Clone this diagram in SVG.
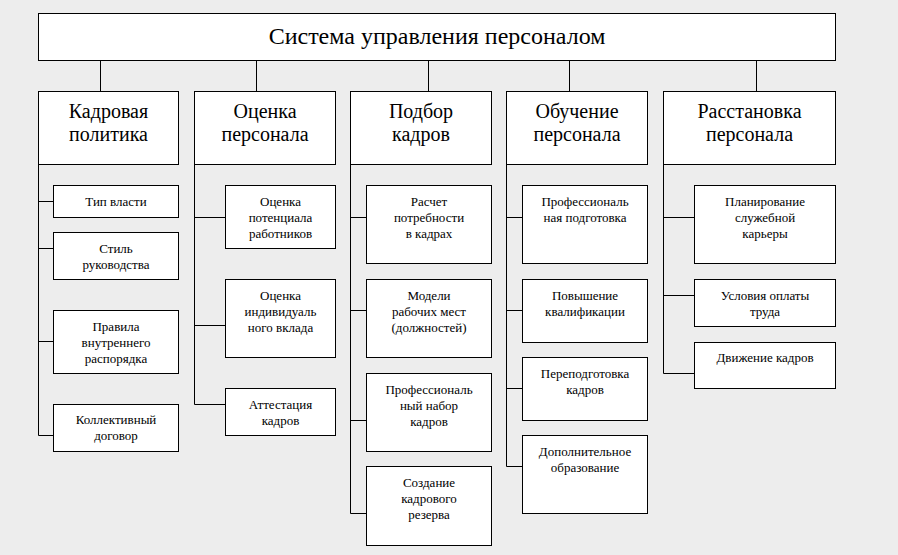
<svg xmlns="http://www.w3.org/2000/svg" width="898" height="555" viewBox="0 0 898 555">
<style>
.bg{fill:#ededed}
rect.b{fill:#fff;stroke:#000;stroke-width:1}
.c{fill:none;stroke:#000;stroke-width:1}
text{font-family:'Liberation Serif','Times New Roman',Tinos,'DejaVu Serif','Noto Serif',FreeSerif,serif;fill:#000;text-anchor:middle}
.t0{font-size:24px}
.t1{font-size:20px}
.t2{font-size:13px}
</style>
<rect class="bg" x="0" y="0" width="898" height="555"/>
<g id="connectors">
<path class="c" d="M100.5 60.5V91.5M256.5 60.5V91.5M428.5 60.5V91.5M569.5 60.5V91.5M756.5 60.5V91.5"/>
<path class="c" d="M38.5 164.5V435.5M38.5 201.5H53.5M38.5 248.5H53.5M38.5 341.5H53.5M38.5 435.5H53.5"/>
<path class="c" d="M194.5 164.5V404.5M194.5 217.5H225.5M194.5 325.5H225.5M194.5 404.5H225.5"/>
<path class="c" d="M350.5 164.5V513.5M350.5 217.5H366.5M350.5 310.5H366.5M350.5 420.5H366.5M350.5 513.5H366.5"/>
<path class="c" d="M506.5 164.5V466.5M506.5 217.5H522.5M506.5 310.5H522.5M506.5 388.5H522.5M506.5 466.5H522.5"/>
<path class="c" d="M663.5 164.5V373.5M663.5 217.5H694.5M663.5 295.5H694.5M663.5 373.5H694.5"/>
</g>
<g id="root"><rect class="b" x="38.5" y="13.5" width="797" height="47"/><text class="t0" x="437" y="44">Система управления персоналом</text></g>
<g id="kp"><rect class="b" x="38.5" y="91.5" width="140" height="73"/><text class="t1" x="108.5" y="118">Кадровая</text><text class="t1" x="108.5" y="141">политика</text></g>
<g id="op"><rect class="b" x="194.5" y="91.5" width="141" height="73"/><text class="t1" x="265" y="118">Оценка</text><text class="t1" x="265" y="141">персонала</text></g>
<g id="pk"><rect class="b" x="350.5" y="91.5" width="141" height="73"/><text class="t1" x="421" y="118">Подбор</text><text class="t1" x="421" y="141">кадров</text></g>
<g id="ob"><rect class="b" x="506.5" y="91.5" width="141" height="73"/><text class="t1" x="577" y="118">Обучение</text><text class="t1" x="577" y="141">персонала</text></g>
<g id="rp"><rect class="b" x="663.5" y="91.5" width="172" height="73"/><text class="t1" x="749.5" y="118">Расстановка</text><text class="t1" x="749.5" y="141">персонала</text></g>

<g id="kp1"><rect class="b" x="53.5" y="185.5" width="125" height="32"/><text class="t2" x="116" y="206">Тип власти</text></g>
<g id="kp2"><rect class="b" x="53.5" y="232.5" width="125" height="47"/><text class="t2" x="116" y="253">Стиль</text><text class="t2" x="116" y="269">руководства</text></g>
<g id="kp3"><rect class="b" x="53.5" y="310.5" width="125" height="63"/><text class="t2" x="116" y="331">Правила</text><text class="t2" x="116" y="347">внутреннего</text><text class="t2" x="116" y="363">распорядка</text></g>
<g id="kp4"><rect class="b" x="53.5" y="404.5" width="125" height="47"/><text class="t2" x="116" y="424">Коллективный</text><text class="t2" x="116" y="440">договор</text></g>

<g id="op1"><rect class="b" x="225.5" y="185.5" width="110" height="63"/><text class="t2" x="280.5" y="206">Оценка</text><text class="t2" x="280.5" y="222">потенциала</text><text class="t2" x="280.5" y="238">работников</text></g>
<g id="op2"><rect class="b" x="225.5" y="279.5" width="110" height="78"/><text class="t2" x="280.5" y="300">Оценка</text><text class="t2" x="280.5" y="316">индивидуаль</text><text class="t2" x="280.5" y="332">ного вклада</text></g>
<g id="op3"><rect class="b" x="225.5" y="388.5" width="110" height="47"/><text class="t2" x="280.5" y="409">Аттестация</text><text class="t2" x="280.5" y="425">кадров</text></g>

<g id="pk1"><rect class="b" x="366.5" y="185.5" width="125" height="78"/><text class="t2" x="429" y="206">Расчет</text><text class="t2" x="429" y="222">потребности</text><text class="t2" x="429" y="238">в кадрах</text></g>
<g id="pk2"><rect class="b" x="366.5" y="279.5" width="125" height="78"/><text class="t2" x="429" y="300">Модели</text><text class="t2" x="429" y="316">рабочих мест</text><text class="t2" x="429" y="332">(должностей)</text></g>
<g id="pk3"><rect class="b" x="366.5" y="373.5" width="125" height="78"/><text class="t2" x="429" y="394">Профессиональ</text><text class="t2" x="429" y="410">ный набор</text><text class="t2" x="429" y="426">кадров</text></g>
<g id="pk4"><rect class="b" x="366.5" y="466.5" width="125" height="79"/><text class="t2" x="429" y="487">Создание</text><text class="t2" x="429" y="503">кадрового</text><text class="t2" x="429" y="519">резерва</text></g>

<g id="ob1"><rect class="b" x="522.5" y="185.5" width="125" height="78"/><text class="t2" x="585" y="206">Профессиональ</text><text class="t2" x="585" y="222">ная подготовка</text></g>
<g id="ob2"><rect class="b" x="522.5" y="279.5" width="125" height="63"/><text class="t2" x="585" y="300">Повышение</text><text class="t2" x="585" y="316">квалификации</text></g>
<g id="ob3"><rect class="b" x="522.5" y="357.5" width="125" height="63"/><text class="t2" x="585" y="378">Переподготовка</text><text class="t2" x="585" y="394">кадров</text></g>
<g id="ob4"><rect class="b" x="522.5" y="435.5" width="125" height="78"/><text class="t2" x="585" y="456">Дополнительное</text><text class="t2" x="585" y="472">образование</text></g>

<g id="rp1"><rect class="b" x="694.5" y="185.5" width="141" height="78"/><text class="t2" x="765" y="206">Планирование</text><text class="t2" x="765" y="222">служебной</text><text class="t2" x="765" y="238">карьеры</text></g>
<g id="rp2"><rect class="b" x="694.5" y="279.5" width="141" height="47"/><text class="t2" x="765" y="300">Условия оплаты</text><text class="t2" x="765" y="316">труда</text></g>
<g id="rp3"><rect class="b" x="694.5" y="342.5" width="141" height="46"/><text class="t2" x="765" y="362">Движение кадров</text></g>
</svg>
